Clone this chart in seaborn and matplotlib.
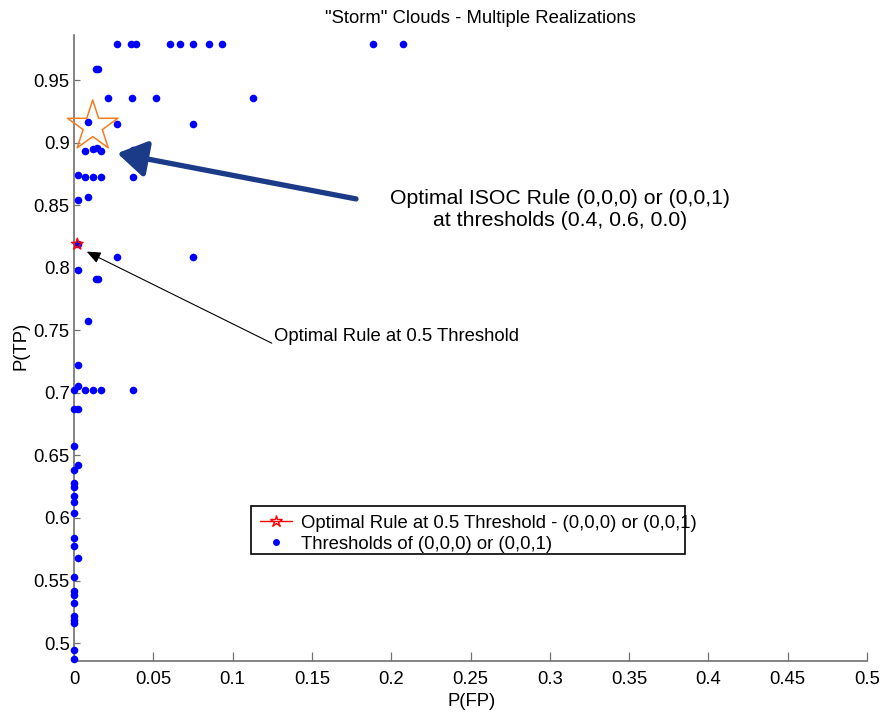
import matplotlib
matplotlib.use("Agg")
import matplotlib.pyplot as plt
from matplotlib.lines import Line2D
from matplotlib.patches import Rectangle
import seaborn as sns
import pandas as pd

# Threshold sweep results: false-positive and true-positive probabilities
fp = [0.0273, 0.0360, 0.0391, 0.0607, 0.0666, 0.0748, 0.0851, 0.0935, 0.1887, 0.2072,
      0.0139, 0.0153,
      0.0212, 0.0363, 0.0514, 0.1129,
      0.0086, 0.0273, 0.0748,
      0.0069, 0.0120, 0.0143, 0.0170, 0.0374,
      0.0027, 0.0069, 0.0120, 0.0170, 0.0374,
      0.0027, 0.0086,
      0.0027,
      0.0273, 0.0750,
      0.0027,
      0.0139, 0.0153,
      0.0086,
      0.0027,
      0.0000, 0.0027, 0.0069, 0.0120, 0.0170, 0.0374,
      0.0000, 0.0027,
      0.0000,
      0.0027, 0.0000,
      0.0000, 0.0000,
      0.0000, 0.0000,
      0.0000,
      0.0000, 0.0000,
      0.0027,
      0.0000,
      0.0000, 0.0000,
      0.0000,
      0.0000, 0.0000, 0.0000,
      0.0000, 0.0000]
tp = [0.9787, 0.9787, 0.9787, 0.9787, 0.9787, 0.9787, 0.9787, 0.9787, 0.9787, 0.9787,
      0.9587, 0.9587,
      0.9360, 0.9360, 0.9360, 0.9360,
      0.9168, 0.9147, 0.9147,
      0.8934, 0.8950, 0.8955, 0.8934, 0.8940,
      0.8742, 0.8723, 0.8723, 0.8723, 0.8723,
      0.8542, 0.8564,
      0.8188,
      0.8086, 0.8086,
      0.7980,
      0.7913, 0.7913,
      0.7575,
      0.7223,
      0.7019, 0.7051, 0.7019, 0.7019, 0.7019, 0.7019,
      0.6871, 0.6871,
      0.6576,
      0.6424, 0.6384,
      0.6282, 0.6250,
      0.6176, 0.6128,
      0.6042,
      0.5842, 0.5776,
      0.5678,
      0.5531,
      0.5419, 0.5384,
      0.5318,
      0.5217, 0.5185, 0.5158,
      0.4945, 0.4873]

# Optimal rule at the 0.5 threshold
opt_fp = [0.0021]
opt_tp = [0.8188]

# Optimal ISOC rule point
isoc_fp = [0.0118]
isoc_tp = [0.9129]

x_ticks = [0, 0.05, 0.1, 0.15, 0.2, 0.25, 0.3, 0.35, 0.4, 0.45, 0.5]
x_tick_labels = ["0", "0.05", "0.1", "0.15", "0.2", "0.25", "0.3", "0.35", "0.4", "0.45", "0.5"]
y_ticks = [0.5, 0.55, 0.6, 0.65, 0.7, 0.75, 0.8, 0.85, 0.9, 0.95]
y_tick_labels = ["0.5", "0.55", "0.6", "0.65", "0.7", "0.75", "0.8", "0.85", "0.9", "0.95"]

sns.set_theme(style="white")
plt.rcParams["font.family"] = ["Liberation Sans", "DejaVu Sans"]
plt.rcParams["text.color"] = "black"
plt.rcParams["axes.labelcolor"] = "black"

FS = 13.3
fig = plt.figure(figsize=(8.84, 7.12), dpi=100)
ax = fig.add_axes([74 / 884, 51 / 712, 793 / 884, 626 / 712])

df = pd.DataFrame({"fp": fp, "tp": tp})
sns.scatterplot(data=df, x="fp", y="tp", ax=ax, color="#0000ff", s=30,
                linewidth=0, zorder=5, clip_on=False, legend=False)

sns.scatterplot(x=opt_fp, y=opt_tp, ax=ax, marker="*", s=75, facecolor="none",
                edgecolor="#ff0000", linewidth=1.0, zorder=6, clip_on=False, legend=False)
sns.scatterplot(x=isoc_fp, y=isoc_tp, ax=ax, marker="*", s=1450, facecolor="none",
                edgecolor="#f57c20", linewidth=1.1, zorder=6, clip_on=False, legend=False)

ax.set_xlim(0, 0.5)
ax.set_ylim(0.4857, 0.986)
ax.set_xticks(x_ticks)
ax.set_xticklabels(x_tick_labels)
ax.set_yticks(y_ticks)
ax.set_yticklabels(y_tick_labels)

for side in ("top", "right"):
    ax.spines[side].set_visible(False)
for side in ("left", "bottom"):
    ax.spines[side].set_color("#707070")
    ax.spines[side].set_linewidth(1.2)
ax.tick_params(axis="x", direction="in", length=6.5, width=0.9, color="#707070",
               labelcolor="black", labelsize=FS, pad=7, bottom=True)
ax.tick_params(axis="y", direction="in", length=4.5, width=0.9, color="#707070",
               labelcolor="black", labelsize=FS, pad=3, left=True)

ax.set_xlabel("P(FP)", fontsize=FS, va="center")
ax.set_ylabel("P(TP)", fontsize=FS, va="center")
ax.xaxis.set_label_coords(0.502, -0.064)
ax.yaxis.set_label_coords(-0.0668, 0.503)

ax.text(0.512, 1.027, "\"Storm\" Clouds - Multiple Realizations", transform=ax.transAxes,
        ha="center", va="center", fontsize=FS)

# ISOC callout
ax.annotate("", xy=(0.0273, 0.8915), xytext=(0.1778, 0.855),
            arrowprops=dict(arrowstyle="-|>,head_length=0.8,head_width=0.5",
                            color="#1b3a87", lw=3.8, mutation_scale=22,
                            shrinkA=0, shrinkB=0), zorder=7)
ax.text(0.3064, 0.8462, "Optimal ISOC Rule (0,0,0) or (0,0,1)\nat thresholds (0.4, 0.6, 0.0)",
        ha="center", va="center", fontsize=15.3, linespacing=1.2)

# 0.5 threshold callout
ax.annotate("", xy=(0.0080, 0.8129), xytext=(0.1247, 0.7397),
            arrowprops=dict(arrowstyle="-|>,head_length=0.6,head_width=0.25",
                            color="black", lw=0.8, mutation_scale=14,
                            shrinkA=0, shrinkB=0), zorder=7)
ax.text(0.1261, 0.7447, "Optimal Rule at 0.5 Threshold", ha="left", va="center", fontsize=FS)

# Legend
handles = [
    Line2D([], [], color="#ff0000", lw=1.0, marker="*", markersize=9,
           markerfacecolor="none", markeredgecolor="#ff0000"),
    Line2D([], [], color="#0000ff", lw=0, marker="o", markersize=5, markeredgewidth=0),
]
labels = ["Optimal Rule at 0.5 Threshold - (0,0,0) or (0,0,1)",
          "Thresholds of (0,0,0) or (0,0,1)"]
leg = ax.legend(handles, labels, loc="upper left", bbox_to_anchor=(0.2346, 0.2340),
                frameon=False, fontsize=FS, handlelength=1.73, handletextpad=0.5,
                borderpad=0, borderaxespad=0, labelspacing=0.22)
ax.add_patch(Rectangle((0.2232, 0.1709), 0.5473, 0.0767, transform=ax.transAxes,
                       fill=False, edgecolor="black", lw=1.2, zorder=8, clip_on=False))

fig.savefig("out.png", dpi=100)
